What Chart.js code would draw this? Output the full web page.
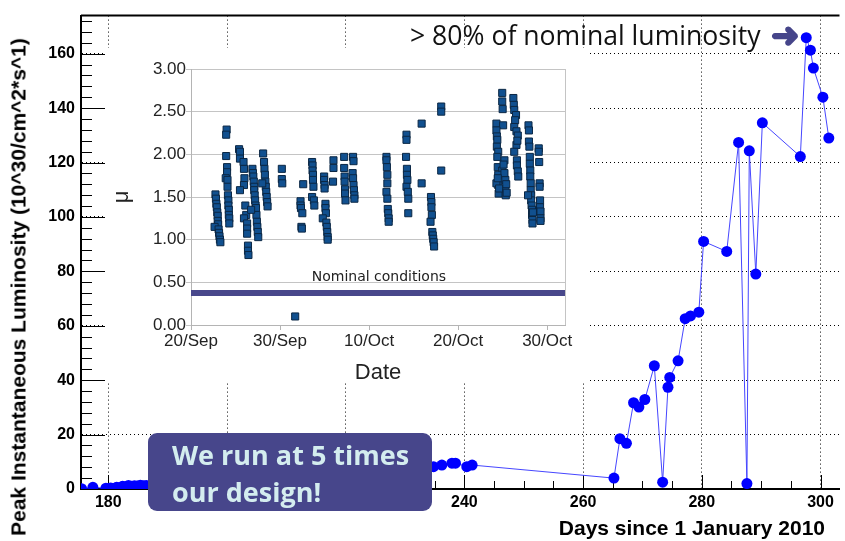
<!DOCTYPE html>
<html>
<head>
<meta charset="utf-8">
<script src="https://cdn.jsdelivr.net/npm/chart.js@4.4.1/dist/chart.umd.min.js"></script>
<style>
    html, body { margin: 0; padding: 0; background: #fff; }
    #wrap { position: relative; width: 845px; height: 541px; overflow: hidden; }
    #lumi { position: absolute; left: 0; top: 0; }
    #insetBg { position: absolute; left: 106px; top: 48px; width: 481px; height: 333px; background: #fff; }
    #mu { position: absolute; left: 106px; top: 48px; }
    .axis-title { position: absolute; font-family: 'Liberation Sans', Arial, sans-serif; font-weight: bold; font-size: 21px; line-height: 1; white-space: nowrap; color: #000; }
    #yTitle { left: 18px; top: 287px; transform: translate(-50%, -50%) rotate(-90deg); }
    #xTitle { right: 20px; top: 517px; }
    #note { position: absolute; left: 410px; top: 22px; font-family: 'Open Sans', sans-serif; font-size: 26.6px; line-height: 1; color: #111; white-space: nowrap; }
    #arrow { position: absolute; left: 771px; top: 18px; font-family: 'DejaVu Sans', sans-serif; font-size: 34px; line-height: 1; color: #46458a;
             -webkit-text-stroke: 2px #46458a; }
    #block { position: absolute; left: 148px; top: 433px; width: 260px; height: 74px; padding: 4px 0 0 24px; border-radius: 9px;
             background: #47468b; color: #d4edef; font-family: 'Open Sans', sans-serif; font-weight: bold; font-size: 27px; line-height: 36.7px; }
</style>
</head>
<body>
<div id="wrap">
    <canvas id="lumi" width="845" height="541"></canvas>
    <div id="insetBg"></div>
    <canvas id="mu" width="481" height="350"></canvas>
    <div class="axis-title" id="yTitle">Peak Instantaneous Luminosity (10^30/cm^2*s^1)</div>
    <div class="axis-title" id="xTitle">Days since 1 January 2010</div>
    <div id="note">&gt; 80% of nominal luminosity</div>
    <div id="arrow">➜</div>
    <div id="block">We run at 5 times<br>our design!</div>
</div>
<script>
// ── main plot: peak luminosity per fill ────────────────────────────────────
const lumiDays = [
    175.5, 177.4, 179.6, 180.0, 180.4, 180.9, 181.4, 181.9, 182.4, 182.9, 183.4, 183.9, 184.4, 184.9, 185.4, 185.9, 186.4,
    190, 195, 200, 205, 210, 215, 220, 225, 230, 233,
    234.8, 236.2, 237.9, 238.5, 240.4, 241.3, 265.2, 266.2, 267.3, 268.5, 269.4, 270.4, 272.0, 273.4, 274.3, 274.6,
    276.0, 277.2, 278.1, 279.5, 280.3, 284.2, 286.2, 287.6, 288.0, 289.1, 290.2, 296.6, 297.6, 298.3, 298.8, 300.4, 301.4,
];
const lumiPeak = [
    0.1, 0.6, 0.3, 0.0, 0.4, 0.2, 0.6, 0.5, 1.0, 0.8, 1.3, 1.0, 1.2, 1.1, 1.4, 1.2, 1.3,
    1.5, 2.3, 3.0, 3.5, 4.5, 5.5, 6.5, 7.0, 7.5, 7.8,
    8.2, 8.8, 9.5, 9.5, 8.2, 8.8, 4.0, 18.5, 16.8, 31.7, 30.1, 32.9, 45.3, 2.5, 37.4, 41.0,
    47.1, 62.6, 63.6, 65.0, 91.0, 87.3, 127.4, 2.0, 124.3, 79.0, 134.6, 122.2, 165.9, 161.3, 154.7, 144.0, 129.0,
];
const dayTicks = [180, 200, 220, 240, 260, 280, 300];
const lumiTicks = [0, 20, 40, 60, 80, 100, 120, 140, 160];

// ── inset: pile-up per run ──────────────────────────────────────────────────
// [days since 20 Sep, mu]
const muRuns = [
    [2.75, 1.53], [2.8, 1.48], [2.85, 1.42], [2.9, 1.38], [2.95, 1.32], [3.0, 1.28], [3.0, 1.22], [3.05, 1.18], [2.65, 1.15],
    [3.1, 1.12], [3.15, 1.08], [3.2, 1.04], [3.25, 1.0], [3.3, 0.97],
    [4.0, 2.29], [3.95, 2.23], [3.95, 1.98], [4.05, 1.85], [4.05, 1.79], [3.9, 1.72], [4.1, 1.70], [4.1, 1.62], [4.15, 1.52],
    [4.2, 1.46], [4.2, 1.40], [4.25, 1.35], [4.25, 1.29], [4.3, 1.25], [4.3, 1.19],
    [5.4, 2.06], [5.5, 2.03], [5.5, 1.95], [5.9, 1.91], [5.95, 1.83], [6.0, 1.72], [5.95, 1.64], [5.5, 1.58], [6.1, 1.40],
    [6.2, 1.29], [5.95, 1.25], [6.3, 1.19], [6.3, 1.13], [6.3, 1.07], [6.4, 0.93], [6.4, 0.87], [6.45, 0.82],
    [6.9, 1.83], [6.95, 1.78], [7.0, 1.74], [7.05, 1.68], [7.1, 1.62], [7.1, 1.58], [7.15, 1.52], [7.2, 1.46], [7.25, 1.40],
    [7.3, 1.37], [7.35, 1.29], [7.4, 1.21], [7.45, 1.15], [7.5, 1.09], [7.55, 1.03], [6.75, 1.35],
    [8.1, 2.01], [8.2, 1.91], [8.25, 1.83], [8.3, 1.76], [8.35, 1.68], [8.4, 1.62], [8.45, 1.56], [8.5, 1.50], [8.55, 1.44],
    [8.6, 1.39], [8.0, 1.66],
    [10.2, 1.83], [10.2, 1.71], [10.25, 1.66],
    [11.7, 0.10],
    [12.6, 1.65], [12.3, 1.45], [12.3, 1.40], [12.35, 1.37], [12.5, 1.31], [12.4, 1.15], [12.45, 1.13],
    [13.6, 1.91], [13.65, 1.87], [13.65, 1.81], [13.7, 1.76], [13.7, 1.70], [13.75, 1.62], [13.6, 1.50], [13.8, 1.46], [13.85, 1.40],
    [14.95, 1.74], [14.95, 1.70], [15.0, 1.64], [15.0, 1.60], [15.1, 1.42], [15.1, 1.37], [15.15, 1.31], [14.8, 1.25],
    [15.2, 1.20], [15.25, 1.15], [15.3, 1.09], [15.35, 1.03], [15.35, 1.0],
    [16.0, 1.93], [16.0, 1.84], [15.95, 1.68],
    [17.2, 1.97], [17.2, 1.84], [17.25, 1.74], [17.25, 1.68], [17.3, 1.59], [17.3, 1.54], [17.35, 1.46],
    [18.2, 1.97], [18.25, 1.92], [18.15, 1.78], [18.2, 1.72], [18.25, 1.64], [18.3, 1.58], [18.35, 1.52], [18.35, 1.48],
    [21.95, 1.97], [21.95, 1.93], [22.0, 1.85], [22.05, 1.76], [22.05, 1.66], [21.95, 1.56], [22.05, 1.48], [22.1, 1.36],
    [22.15, 1.31], [22.2, 1.25], [22.2, 1.21],
    [24.2, 2.23], [24.2, 2.17], [24.15, 1.97], [24.25, 1.83], [24.25, 1.76], [24.3, 1.70], [24.2, 1.62], [24.35, 1.56],
    [24.4, 1.48], [24.4, 1.31],
    [25.9, 2.36], [25.9, 1.66],
    [26.95, 1.50], [27.0, 1.44], [27.0, 1.38], [27.05, 1.29], [26.9, 1.21], [27.1, 1.09], [27.15, 1.05], [27.2, 1.01],
    [27.25, 0.97], [27.3, 0.92],
    [28.1, 2.56], [28.1, 2.50], [28.1, 1.81],
    [34.95, 2.72], [34.95, 2.62], [35.0, 2.53], [34.3, 2.36], [35.05, 2.34], [34.3, 2.28], [34.35, 2.21], [34.4, 2.17],
    [34.35, 2.09], [34.5, 2.03], [34.4, 1.97], [35.2, 1.93], [34.45, 1.85], [34.95, 1.81], [34.5, 1.76], [35.3, 1.70],
    [34.5, 1.64], [35.3, 1.59], [34.55, 1.54], [35.35, 1.52], [34.3, 1.66], [35.1, 1.88], [35.2, 1.78], [35.4, 1.65],
    [34.6, 1.60], [35.45, 1.55], [34.45, 1.72],
    [36.2, 2.66], [36.25, 2.58], [36.3, 2.52], [36.5, 2.46], [36.4, 2.40], [36.3, 2.32], [36.55, 2.27], [36.55, 2.11],
    [36.3, 2.03], [36.6, 1.93], [36.6, 1.87], [36.7, 1.80], [36.75, 1.74], [36.7, 2.22], [36.65, 2.16],
    [37.9, 2.34], [37.95, 2.28], [37.95, 2.15], [38.0, 2.09], [38.05, 1.97], [38.05, 1.89], [38.1, 1.81], [38.1, 1.74],
    [38.15, 1.66], [38.15, 1.58], [38.2, 1.52], [38.2, 1.46], [38.25, 1.40], [38.3, 1.35], [38.3, 1.29], [38.35, 1.23],
    [38.35, 1.19], [37.85, 1.52], [38.4, 1.32],
    [39.05, 2.07], [39.05, 2.03], [39.1, 1.91], [39.15, 1.66], [39.15, 1.62], [39.2, 1.46], [39.2, 1.38], [39.25, 1.33],
    [39.25, 1.25], [39.25, 1.22],
];
const nominalMu = 0.375;
const dateTickDays = [0, 10, 20, 30, 40];
const dateTickLabels = ['20/Sep', '30/Sep', '10/Oct', '20/Oct', '30/Oct'];
const muTicks = [0, 0.5, 1, 1.5, 2, 2.5, 3];

// ROOT style: ticks drawn inward, frame line on top
const rootFrame = {
    id: 'rootFrame',
    beforeDatasetsDraw(chart) {
        const { ctx, chartArea: a, scales: { x, y } } = chart;
        ctx.save();
        ctx.strokeStyle = '#000';
        ctx.lineWidth = 1;
        ctx.beginPath();
        for (let v = 0; v <= y.max; v += 4) {
            const py = Math.round(y.getPixelForValue(v)) + 0.5;
            const len = v % 20 === 0 ? 24 : 11;
            ctx.moveTo(a.left, py); ctx.lineTo(a.left + len, py);
        }
        for (let d = 180; d <= x.max; d += 5) {
            const px = Math.round(x.getPixelForValue(d)) + 0.5;
            const len = d % 20 === 0 ? 14 : 8;
            ctx.moveTo(px, a.bottom); ctx.lineTo(px, a.bottom - len);
        }
        ctx.stroke();
        ctx.lineWidth = 2;
        ctx.beginPath();
        ctx.moveTo(a.left, a.top); ctx.lineTo(a.right, a.top);
        ctx.stroke();
        ctx.restore();
    },
};

const rootTickFont = { family: "'Liberation Sans', Arial, sans-serif", weight: 'bold', size: 16 };

new Chart(document.getElementById('lumi'), {
    type: 'line',
    data: {
        datasets: [{
            data: lumiDays.map((d, i) => ({ x: d, y: lumiPeak[i] })),
            borderColor: '#4646ff',
            borderWidth: 1,
            pointRadius: 5.5,
            pointBackgroundColor: '#0000ff',
            pointBorderWidth: 0,
            tension: 0,
        }],
    },
    options: {
        responsive: false,
        animation: false,
        layout: { padding: { top: 6, right: 0, bottom: 0, left: 0 } },
        plugins: { legend: { display: false }, tooltip: { enabled: false } },
        scales: {
            x: {
                type: 'linear', min: 175.4, max: 303.2,
                afterBuildTicks: (s) => { s.ticks = dayTicks.map((v) => ({ value: v })); },
                afterFit: (s) => { s.height = 52; },
                grid: { color: '#000', lineWidth: 1, drawTicks: false },
                border: { color: '#000', width: 2, dash: [1, 3] },
                ticks: { color: '#000', font: rootTickFont, padding: 4, maxRotation: 0, autoSkip: false },
            },
            y: {
                min: 0, max: 174,
                afterBuildTicks: (s) => { s.ticks = lumiTicks.map((v) => ({ value: v })); },
                afterFit: (s) => { s.width = 81; },
                grid: { color: '#000', lineWidth: 1, drawTicks: false },
                border: { color: '#000', width: 2, dash: [1, 3] },
                ticks: { color: '#000', font: rootTickFont, padding: 6, autoSkip: false },
            },
        },
    },
    plugins: [rootFrame],
});

// inset: nominal label + right frame
const insetDeco = {
    id: 'insetDeco',
    afterDatasetsDraw(chart) {
        const { ctx, chartArea: a, scales: { x, y } } = chart;
        ctx.save();
        ctx.strokeStyle = '#c4c4c4';
        ctx.lineWidth = 1;
        ctx.beginPath();
        ctx.moveTo(a.right + 0.5, a.top); ctx.lineTo(a.right + 0.5, a.bottom);
        ctx.stroke();
        ctx.fillStyle = '#222';
        ctx.font = "14px 'DejaVu Sans', sans-serif";
        ctx.textAlign = 'center';
        ctx.textBaseline = 'middle';
        ctx.fillText('Nominal conditions', x.getPixelForValue(21.1), y.getPixelForValue(0.56));
        ctx.restore();
    },
};

const officeFont = { family: "'Liberation Sans', Arial, sans-serif", size: 17 };

new Chart(document.getElementById('mu'), {
    type: 'scatter',
    data: {
        datasets: [{
            type: 'line',
            data: [{ x: 0, y: nominalMu }, { x: 42, y: nominalMu }],
            borderColor: '#48478b',
            borderWidth: 6,
            pointRadius: 0,
        }, {
            data: muRuns.map((p) => ({ x: p[0], y: p[1] })),
            pointStyle: 'rect',
            pointRadius: 5,
            backgroundColor: '#11508f',
            borderColor: '#0b2744',
            borderWidth: 1,
        }],
    },
    options: {
        responsive: false,
        animation: false,
        layout: { padding: { top: 21, right: 22, bottom: 0, left: 0 } },
        plugins: { legend: { display: false }, tooltip: { enabled: false } },
        scales: {
            x: {
                type: 'linear', min: 0, max: 42,
                afterBuildTicks: (s) => { s.ticks = dateTickDays.map((v) => ({ value: v })); },
                afterFit: (s) => { s.height = 73; },
                grid: { drawOnChartArea: false, tickLength: 5, color: '#b4b4b4' },
                border: { color: '#b4b4b4' },
                ticks: {
                    color: '#222', font: officeFont, padding: 1, maxRotation: 0, autoSkip: false,
                    callback: (v) => dateTickLabels[dateTickDays.indexOf(v)],
                },
                title: { display: true, text: 'Date', color: '#222', font: { family: "'Liberation Sans', Arial, sans-serif", size: 22 }, padding: { top: 0, bottom: 12 } },
            },
            y: {
                min: 0, max: 3,
                afterBuildTicks: (s) => { s.ticks = muTicks.map((v) => ({ value: v })); },
                afterFit: (s) => { s.width = 85; },
                grid: { tickLength: 5, color: '#c4c4c4' },
                border: { color: '#b4b4b4' },
                ticks: { color: '#222', font: officeFont, padding: 0, callback: (v) => v.toFixed(2) },
                title: { display: true, text: 'μ', color: '#222', font: { family: "'Liberation Sans', Arial, sans-serif", size: 22 }, padding: { top: 3, bottom: 0 } },
            },
        },
    },
    plugins: [insetDeco],
});
</script>
</body>
</html>
